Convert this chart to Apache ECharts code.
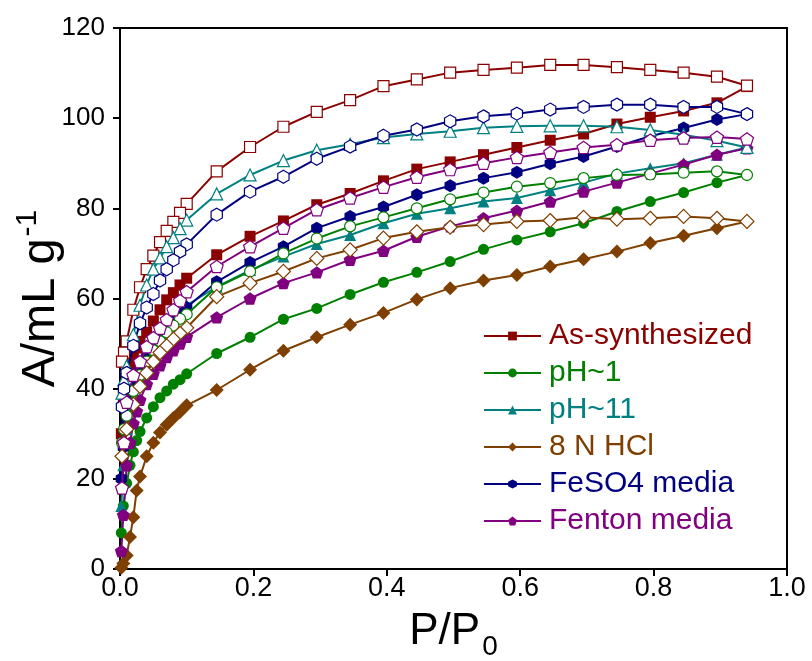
<!DOCTYPE html>
<html><head><meta charset="utf-8">
<script src="https://cdn.jsdelivr.net/npm/echarts@6/dist/echarts.min.js"></script>
<style>html,body{margin:0;padding:0;background:#fff}#c{width:812px;height:661px}</style>
</head><body><div id="c"></div>
<script>
// Relative pressure points
const adsP = [0.002, 0.005, 0.01, 0.015, 0.02, 0.025, 0.03, 0.04, 0.05, 0.06, 0.07, 0.08, 0.09, 0.1,
  0.145, 0.195, 0.245, 0.295, 0.345, 0.395, 0.445, 0.495, 0.545, 0.595, 0.645, 0.695, 0.745, 0.795, 0.845, 0.895, 0.94];
const desP = [0.94, 0.895, 0.845, 0.795, 0.745, 0.695, 0.645, 0.595, 0.545, 0.495, 0.445, 0.395, 0.345, 0.295, 0.245, 0.195, 0.145,
  0.1, 0.09, 0.08, 0.07, 0.06, 0.05, 0.04, 0.03, 0.02, 0.01, 0.006, 0.003];

const seriesNames = ['As-synthesized', 'pH~1', 'pH~11', '8 N HCl', 'FeSO4 media', 'Fenton media'];
const seriesColors = ['#8B0000', '#008000', '#008080', '#7F3F00', '#000080', '#800080'];

// Adsorption branches (filled markers)
const asSynAds = [30, 38, 43, 45.5, 47.5, 49, 50.5, 52.5, 55, 57.5, 59.7, 61.3, 63, 64.5, 69.7, 73.8, 77.2, 80.8, 83.3, 86.1, 88.7, 90.3, 91.9, 93.5, 95.1, 96.5, 98.7, 100.2, 101.6, 103.4, 107.0];
const ph1Ads = [8, 14, 19, 23, 26, 28.5, 30.5, 33.5, 36, 38, 39.5, 41, 42, 43.3, 47.8, 51.4, 55.4, 57.8, 60.9, 63.6, 65.8, 68.2, 70.9, 73.0, 74.8, 76.7, 79.3, 81.5, 83.5, 85.7, 87.4];
const ph11Ads = [14, 23, 31, 36, 39.5, 42, 44, 47.5, 50, 52, 54, 55.5, 57, 58.5, 62.6, 66.3, 69.3, 72.1, 74.1, 76.7, 78.8, 80.0, 81.5, 82.3, 84.0, 85.7, 87.7, 88.9, 90.0, 91.9, 93.5];
const hclAds = [0.3, 1.2, 3, 7.1, 11.5, 17.4, 20.5, 25, 28, 30.3, 32, 33.5, 34.8, 36.3, 39.7, 44.2, 48.4, 51.4, 54.2, 56.8, 59.8, 62.3, 64.0, 65.2, 67.1, 68.7, 70.4, 72.3, 73.9, 75.6, 77.1];
const feAds = [20, 27, 33, 37, 40, 42, 44, 47, 49.5, 51.5, 53.5, 55, 56.5, 58, 63.7, 68.0, 71.5, 75.6, 78.2, 80.3, 83.0, 85.0, 86.7, 88.0, 89.9, 91.5, 93.7, 96.0, 97.8, 99.7, 100.9];
const fentonAds = [4, 12, 23, 28, 32.3, 35, 37.5, 41, 43.3, 45.2, 47, 48.5, 50, 51.5, 55.8, 60.0, 63.4, 65.8, 68.6, 70.6, 73.7, 76.0, 77.8, 79.5, 81.5, 83.7, 85.7, 87.7, 89.7, 91.9, 93.3];

// Desorption branches (open markers)
const asSynDes = [107.2, 109.2, 110.1, 110.7, 111.3, 111.8, 111.8, 111.2, 110.7, 110.1, 108.6, 107.1, 104.0, 101.4, 98.1, 93.6, 88.2, 81, 79, 77, 75, 72.5, 69.5, 66.5, 62.5, 57.5, 50.5, 48, 46];
const ph1Des = [87.4, 88.2, 87.9, 87.5, 87.4, 86.7, 85.6, 84.8, 83.5, 82.0, 80.0, 78.0, 76.0, 73.3, 70.0, 66.0, 62.5, 56.5, 55.5, 54, 52.5, 50.5, 48.5, 46, 43, 39.5, 34, 31, 28];
const ph11Des = [93.5, 95.0, 96.3, 97.4, 98.1, 98.3, 98.3, 98.2, 97.9, 97.1, 96.5, 95.7, 94.2, 92.9, 90.6, 87.4, 83.2, 77.4, 75.5, 73.5, 71.5, 69, 66.5, 63, 58.5, 52, 45, 42, 39];
const hclDes = [77.1, 77.8, 78.2, 77.8, 77.6, 78.0, 77.3, 77.1, 76.4, 75.8, 74.8, 73.4, 70.8, 68.9, 66.0, 63.4, 60.4, 53.5, 52.3, 51, 49.5, 48, 46, 43.5, 40.5, 36.5, 31, 28, 25];
const feDes = [100.9, 102.5, 102.5, 103.0, 103.0, 102.5, 101.9, 101.0, 100.4, 99.3, 97.5, 96.1, 93.7, 91.0, 87.0, 83.7, 78.6, 72, 70.4, 68.5, 66.5, 64, 61, 58, 54.5, 49.5, 43.5, 40, 36];
const fentonDes = [95.4, 95.8, 95.6, 95.1, 94.1, 93.5, 92.4, 91.3, 90.0, 88.6, 86.9, 84.7, 82.3, 79.7, 75.6, 71.5, 67.1, 61.5, 59.5, 57.5, 55.3, 53.4, 51.3, 49.3, 46, 43, 37, 28, 18];

const xTicks = [0, 0.2, 0.4, 0.6, 0.8, 1.0];
const yTicks = [0, 20, 40, 60, 80, 100, 120];

const adsAll = [asSynAds, ph1Ads, ph11Ads, hclAds, feAds, fentonAds];
const desAll = [asSynDes, ph1Des, ph11Des, hclDes, feDes, fentonDes];

const HEX = 'path://M0,-1 L0.866,-0.5 L0.866,0.5 L0,1 L-0.866,0.5 L-0.866,-0.5 Z';
const PENT = 'path://M0,-1 L0.951,-0.309 L0.588,0.809 L-0.588,0.809 L-0.951,-0.309 Z';
const symbols = ['rect', 'circle', 'triangle', 'diamond', HEX, PENT];
const sizes = [11, 11, 12, 14, 13, 13];
const FONT = 'Liberation Sans, Arial, sans-serif';

const series = [];
for (let i = 0; i < 6; i++) {
  series.push({
    name: seriesNames[i], type: 'line', symbol: symbols[i], symbolSize: sizes[i], symbolKeepAspect: true,
    showAllSymbol: true, z: 2,
    data: adsP.map((p, j) => [p, adsAll[i][j]]),
    itemStyle: { color: seriesColors[i] },
    lineStyle: { color: seriesColors[i], width: 2 }
  });
  series.push({
    name: seriesNames[i] + ' desorption', type: 'line', symbol: symbols[i], symbolSize: sizes[i], symbolKeepAspect: true,
    showAllSymbol: true, z: 3,
    data: desP.map((p, j) => [p, desAll[i][j]]),
    itemStyle: { color: '#ffffff', borderColor: seriesColors[i], borderWidth: 1.2, opacity: 1 },
    lineStyle: { color: seriesColors[i], width: 2 }
  });
}

const chart = echarts.init(document.getElementById('c'), null, { renderer: 'canvas' });
chart.setOption({
  animation: false,
  backgroundColor: '#ffffff',
  grid: { left: 120, right: 25, top: 28, bottom: 92, show: true, borderColor: '#000', borderWidth: 2,
    backgroundColor: 'transparent', containLabel: false, outerBoundsMode: 'none' },
  legend: {
    orient: 'vertical', left: 483, top: 321, padding: 0, itemWidth: 57, itemHeight: 11, itemGap: 7,
    data: seriesNames.map((n, i) => ({ name: n, textStyle: { color: seriesColors[i] } })),
    textStyle: { fontSize: 30, lineHeight: 30, fontFamily: FONT, padding: [0, 0, 0, 3] }
  },
  xAxis: {
    type: 'value', min: xTicks[0], max: xTicks[xTicks.length - 1], interval: 0.2,
    axisLine: { show: true, lineStyle: { color: '#000', width: 2 } },
    axisTick: { show: true, inside: false, length: 7, lineStyle: { color: '#000', width: 2 } },
    splitLine: { show: false },
    axisLabel: { color: '#000', fontSize: 27, fontFamily: FONT, margin: 6, formatter: v => v.toFixed(1) },
    name: '{a|P/P}{s|0}', nameLocation: 'middle', nameGap: 34,
    nameTextStyle: { rich: { a: { fontSize: 44, fontFamily: FONT, color: '#000' }, s: { fontSize: 28, fontFamily: FONT, color: '#000', padding: [30, 0, 0, 2] } } }
  },
  yAxis: {
    type: 'value', min: yTicks[0], max: yTicks[yTicks.length - 1], interval: 20,
    axisLine: { show: true, lineStyle: { color: '#000', width: 2 } },
    axisTick: { show: true, inside: false, length: 7, lineStyle: { color: '#000', width: 2 } },
    splitLine: { show: false },
    axisLabel: { color: '#000', fontSize: 26, fontFamily: FONT, margin: 15 },
    name: '{a|A/mL g}{s|-1}', nameLocation: 'middle', nameGap: 50, nameRotate: 90, nameMoveOverlap: false,
    nameTextStyle: { rich: { a: { fontSize: 47, fontFamily: FONT, color: '#000' }, s: { fontSize: 30, fontFamily: FONT, color: '#000', padding: [0, 0, 27, 2] } } }
  },
  series: series
});
</script></body></html>
